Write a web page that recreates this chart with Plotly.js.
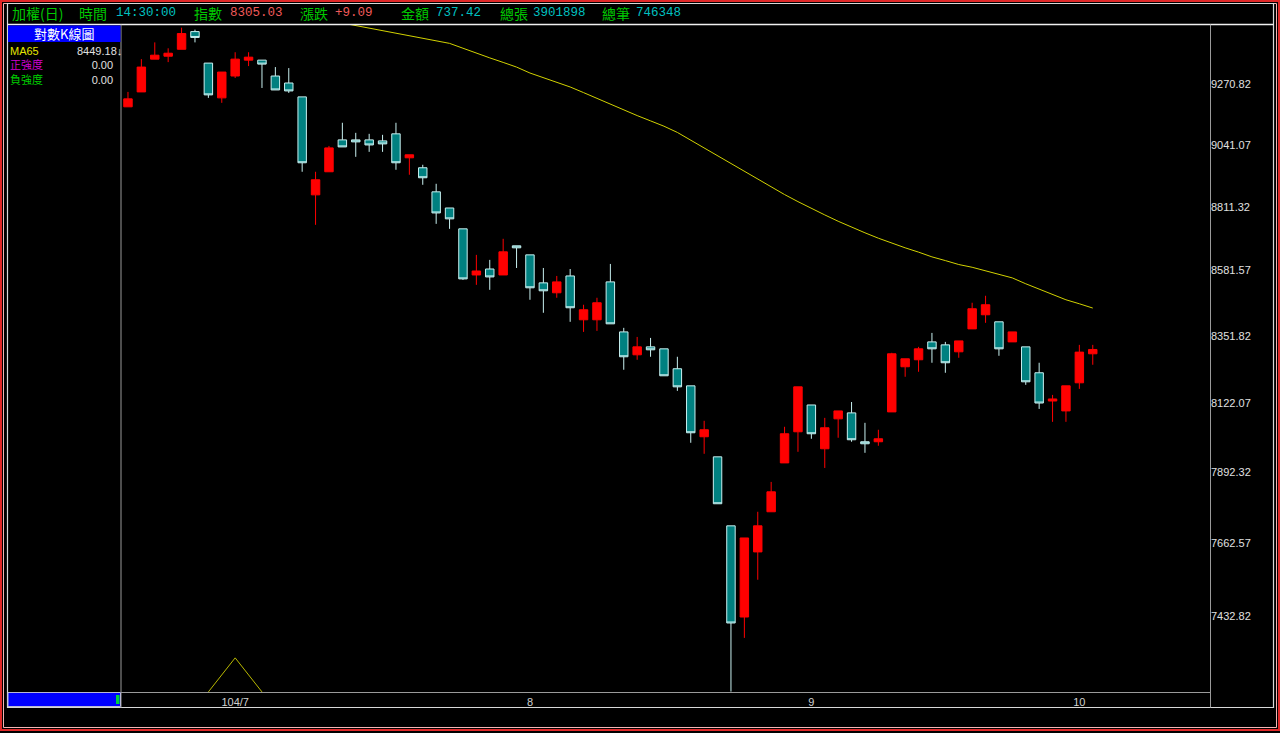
<!DOCTYPE html>
<html><head><meta charset="utf-8">
<script src="https://cdn.plot.ly/plotly-3.0.1.min.js"></script>
<style>html,body{margin:0;padding:0;background:#000;overflow:hidden}#chart{width:1280px;height:733px}</style>
</head><body><div id="chart"></div>
<script>
// ---- data (daily candles, TAIEX, log scale) ----
const dayIdx = [0,1,2,3,4,5,6,7,8,9,10,11,12,13,14,15,16,17,18,19,20,21,22,23,24,25,26,27,28,29,30,31,32,33,34,35,36,37,38,39,40,41,42,43,44,45,46,47,48,49,50,51,52,53,54,55,56,57,58,59,60,61,62,63,64,65,66,67,68,69,70,71,72];
const openVals  = [9185.7,9242.7,9369.4,9380.9,9407.9,9477.2,9354.0,9219.9,9303.9,9365.5,9365.5,9303.9,9277.0,9223.7,8855.9,8941.2,9060.4,9060.4,9060.4,9056.6,9083.2,8993.2,8956.1,8867.0,8807.7,8731.8,8566.1,8587.3,8566.1,8670.4,8637.9,8538.0,8502.9,8562.6,8408.1,8408.1,8541.5,8365.9,8286.7,8314.1,8307.3,8238.8,8180.6,8009.4,7942.9,7718.5,7431.6,7635.3,7763.7,7922.9,8026.0,8115.8,7969.5,8069.2,8089.2,7992.8,7992.8,8092.5,8245.7,8269.6,8331.3,8321.0,8297.0,8376.4,8425.6,8401.0,8331.3,8314.1,8225.1,8129.2,8095.8,8190.9,8290.2];
const highVals  = [9242.7,9369.4,9434.8,9411.7,9492.6,9484.9,9354.0,9319.3,9396.3,9396.3,9365.5,9338.6,9334.7,9223.7,8941.2,9037.7,9125.0,9087.0,9083.2,9079.4,9125.0,9004.4,8967.2,8896.7,8807.7,8731.8,8637.9,8619.9,8695.7,8670.4,8637.9,8591.0,8562.6,8587.3,8460.8,8485.3,8605.4,8380.0,8348.4,8345.0,8307.3,8279.9,8180.6,8062.6,7942.9,7718.5,7679.7,7763.7,7860.6,8042.6,8177.2,8115.8,8072.5,8095.8,8125.8,8055.9,8032.7,8293.6,8273.0,8314.1,8362.4,8331.3,8334.7,8467.8,8492.4,8401.0,8365.9,8314.1,8259.4,8149.8,8180.6,8321.0,8321.0];
const lowVals   = [9185.7,9242.7,9369.4,9357.8,9407.9,9434.8,9219.9,9200.9,9296.2,9342.4,9257.9,9250.3,9238.9,8941.2,8746.3,8941.2,9034.0,8996.9,9015.5,9015.5,8948.7,8930.1,8893.0,8749.9,8731.8,8548.6,8531.0,8513.4,8566.1,8591.0,8478.3,8432.6,8485.3,8401.0,8365.9,8369.4,8394.0,8235.4,8269.6,8279.9,8214.8,8163.5,7989.4,7952.9,7789.6,7205.0,7367.5,7547.6,7763.7,7922.9,7959.5,8002.7,7906.3,8006.1,7992.8,7956.2,7979.5,8092.5,8211.4,8228.5,8259.4,8225.1,8276.5,8376.4,8397.5,8283.3,8331.3,8184.0,8102.5,8059.2,8059.2,8170.3,8252.5];
const closeVals = [9216.1,9338.6,9384.8,9392.5,9469.5,9454.1,9231.3,9319.3,9369.4,9377.1,9350.1,9250.3,9246.5,8974.7,8911.6,9030.3,9034.0,9052.9,9041.4,9045.3,8974.7,9004.4,8919.0,8789.6,8768.0,8552.1,8580.2,8559.1,8648.8,8663.2,8520.5,8509.9,8541.5,8450.2,8443.2,8467.8,8394.0,8279.9,8314.1,8303.9,8214.8,8177.2,8022.7,8032.7,7789.6,7413.3,7679.7,7718.5,7828.3,8019.4,8177.2,8019.4,8039.3,8095.8,7999.4,7986.1,8002.7,8290.2,8273.0,8307.3,8307.3,8259.4,8334.7,8446.7,8460.8,8307.3,8365.9,8194.3,8122.4,8136.1,8180.6,8295.94,8305.03];
// MA65
const maIdx  = [16,17,18,19,20,21,22,23,24,25,26,27,28,29,30,31,32,33,34,35,36,37,38,39,40,41,42,43,44,45,46,47,48,49,50,51,52,53,54,55,56,57,58,59,60,61,62,63,64,65,66,67,68,69,70,71,72];
const maVals = [9511,9501,9491,9480.6,9470.3,9460.2,9451.8,9441.8,9431.0,9412.0,9392.0,9374.4,9356.7,9338.6,9315.5,9297.4,9279.3,9261.7,9240.1,9217.6,9195.6,9174.0,9152.3,9132.2,9112.1,9088.5,9058.9,9030.3,9001.0,8972.4,8942.7,8912.6,8883.3,8857.0,8831.0,8805.2,8782.4,8759.3,8736.9,8717.4,8697.9,8679.3,8663.2,8647.7,8630.7,8617.4,8603.3,8593.5,8581.2,8569.3,8555.6,8534.8,8515.5,8497.6,8478.3,8464.2,8449.18];
// small marker at bottom
const markIdx  = [6,8,10];
const markVals = [7204,7306.6,7204];
// axes
const monthIdx    = [8,30,51,71];
const monthLabels = ["104/7","8","9","10"];
const yTickVals   = [9270.82,9041.07,8811.32,8581.57,8351.82,8122.07,7892.32,7662.57,7432.82];
const yTickText   = ["9270.82","9041.07","8811.32","8581.57","8351.82","8122.07","7892.32","7662.57","7432.82"];
// header / info panel
const headerItems = [
  ["加權(日)", "g"], ["時間", "g"], ["14:30:00", "c"], ["指數", "g"], ["8305.03", "r"],
  ["漲跌", "g"], ["+9.09", "r"], ["金額", "g"], ["737.42", "c"], ["總張", "g"], ["3901898", "c"],
  ["總筆", "g"], ["746348", "c"]
];
const maLabel = "MA65", maLast = "8449.18↓";
const posLabel = "正強度", posVal = "0.00";
const negLabel = "負強度", negVal = "0.00";
const chartTitle = "對數K線圖";

// ---- layout helpers ----
const L=121, R=1210, T=25, B=692;
const px = x => (x-L)/(R-L);
const py = y => (B-y)/(B-T);
const CJK = "Noto Sans CJK TC, Noto Sans CJK SC, sans-serif";
const MONO = "Liberation Mono, DejaVu Sans Mono, monospace";
const SANS = "Liberation Sans, Arial, sans-serif";
const PANEL = "Liberation Sans, Noto Sans CJK TC, sans-serif";
const colorMap = {g:"#00c800", c:"#00c0c0", r:"#f05a5a"};
const headerX = [10,77,114,192,228,298,333,399,434,498,531,600,634];

const annotations = [];
headerItems.forEach((it,i)=>{
  const isCJK = /[\u3400-\u9fff]/.test(it[0]);
  annotations.push({xref:'paper',yref:'paper',x:px(headerX[i]),y:py(13),xanchor:'left',yanchor:'middle',
    text:it[0],showarrow:false,font:{family:isCJK?CJK:MONO,size:isCJK?14:12.5,color:colorMap[it[1]]}});
});
annotations.push({xref:'paper',yref:'paper',x:px(64),y:py(33.5),xanchor:'center',yanchor:'middle',
  text:chartTitle,showarrow:false,font:{family:CJK,size:13,color:'#ffffff'}});
// labels of the info panel (one block, three lines)
annotations.push({xref:'paper',yref:'paper',x:px(9),y:py(65.5),xanchor:'left',yanchor:'middle',align:'left',
  showarrow:false,borderpad:0,font:{family:PANEL,size:11,color:'#e6e600'},
  text:'<span style="color:#e6e600">'+maLabel+'</span><br><span style="color:#d000d0">'+posLabel+
       '</span><br><span style="color:#00d000">'+negLabel+'</span>'});
// values of the info panel (one block, right aligned)
annotations.push({xref:'paper',yref:'paper',x:px(123),y:py(65.5),xanchor:'right',yanchor:'middle',align:'right',
  showarrow:false,borderpad:0,font:{family:SANS,size:11,color:'#e0e0e0'},
  text:maLast+'<br>'+posVal+'\u00a0\u00a0\u00a0<br>'+negVal+'\u00a0\u00a0\u00a0'});

const shapes = [
  {type:'rect',xref:'paper',yref:'paper',x0:px(1),x1:px(1279),y0:py(1),y1:py(730),line:{color:'#e02828',width:2},layer:'below'},
  {type:'rect',xref:'paper',yref:'paper',x0:px(3.5),x1:px(1276.5),y0:py(3.5),y1:py(727.5),line:{color:'#f4b4b4',width:1},layer:'below'},
  {type:'rect',xref:'paper',yref:'paper',x0:px(7.5),x1:px(1273.5),y0:py(3.5),y1:py(707.5),line:{color:'#d8d8d8',width:1.2},layer:'below'},
  {type:'line',xref:'paper',yref:'paper',x0:px(7.5),x1:px(1273.5),y0:py(24.5),y1:py(24.5),line:{color:'#f0f0f0',width:1.5}},
  {type:'line',xref:'paper',yref:'paper',x0:px(121),x1:px(121),y0:py(24.5),y1:py(707.5),line:{color:'#9a9a9a',width:1}},
  {type:'line',xref:'paper',yref:'paper',x0:px(1210.5),x1:px(1210.5),y0:py(24.5),y1:py(707.5),line:{color:'#9a9a9a',width:1}},
  {type:'rect',xref:'paper',yref:'paper',x0:px(8),x1:px(120.5),y0:py(25.5),y1:py(42),fillcolor:'#0000ff',line:{width:0}},
  {type:'rect',xref:'paper',yref:'paper',x0:px(8),x1:px(120.5),y0:py(692.5),y1:py(706.5),fillcolor:'#0000ff',line:{color:'#b8b8d8',width:1}},
  {type:'rect',xref:'paper',yref:'paper',x0:px(116),x1:px(119.5),y0:py(695),y1:py(704),fillcolor:'#00d040',line:{width:0}}
];

const traces = [
  {type:'scatter',mode:'lines',x:markIdx,y:markVals,line:{color:'#b8b800',width:1},hoverinfo:'skip',showlegend:false},
  {type:'scatter',mode:'lines',x:maIdx,y:maVals,line:{color:'#d2d200',width:1},hoverinfo:'skip',showlegend:false},
  {type:'candlestick',x:dayIdx,open:openVals,high:highVals,low:lowVals,close:closeVals,
   increasing:{line:{color:'#ff0000',width:1},fillcolor:'#ff0000'},
   decreasing:{line:{color:'#c8f0f0',width:1},fillcolor:'#008080'},
   whiskerwidth:0,hoverinfo:'skip',showlegend:false}
];

const layout = {
  width:1280,height:733,autosize:false,
  paper_bgcolor:'#000',plot_bgcolor:'#000',
  margin:{l:L,r:1280-R,t:T,b:733-B,pad:0},
  showlegend:false,boxgap:0.1,
  xaxis:{range:[-0.52,80.75],tickvals:monthIdx,ticktext:monthLabels,showgrid:false,zeroline:false,
    showline:true,linecolor:'#9a9a9a',linewidth:1,ticks:'',rangeslider:{visible:false},
    tickfont:{family:SANS,size:11,color:'#d0d0d0'},fixedrange:true},
  yaxis:{type:'log',range:[3.85756,3.97787],side:'right',tickvals:yTickVals,ticktext:yTickText,
    showgrid:false,zeroline:false,showline:false,ticks:'',
    tickfont:{family:SANS,size:11,color:'#e0e0e0'},fixedrange:true},
  shapes,annotations
};
Plotly.newPlot('chart',traces,layout,{displayModeBar:false,staticPlot:true});
</script></body></html>
